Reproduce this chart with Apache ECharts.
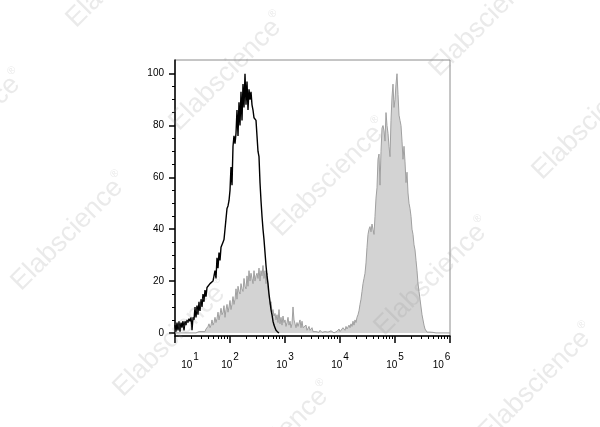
<!DOCTYPE html>
<html>
<head>
<meta charset="utf-8">
<script src="https://cdn.jsdelivr.net/npm/echarts@6.0.0/dist/echarts.min.js"></script>
<style>
  html, body { margin: 0; padding: 0; background: #fff; }
  #chart { width: 600px; height: 427px; }
</style>
</head>
<body>
<div id="chart"></div>
<script>
// ---- data ----
// x axis: log10 of fluorescence, decades 10^1 .. 10^6
const decadeTicks = [1, 2, 3, 4, 5, 6];
const decadeLabels = ['1', '2', '3', '4', '5', '6'];
const yTicks = [0, 20, 40, 60, 80, 100];
const yMinorTicks = [5, 10, 15, 25, 30, 35, 45, 50, 55, 65, 70, 75, 85, 90, 95];

// histogram bins: first bin at 10^1, 55 bins per decade
const binStart = 1;
const binWidth = 1 / 55;

// isotype control (black outline)
const controlCounts = [
  3, 0.5, 4, 1, 4.5, 0.5, 4, 2, 4.5, 1,
  4.5, 3, 5, 4, 5.5, 4.5, 6, 1, 6, 5,
  10, 6, 10.5, 7, 12, 8.5, 13, 10, 15, 12,
  16.5, 14, 17.5, 17, 18, 19, 19, 19.5, 20, 20.5,
  24, 21, 29, 25, 31, 28, 33, 34, 35, 36,
  40, 44, 48, 49, 51, 55, 64, 57, 72, 76,
  73, 77, 86, 76, 89, 80, 93, 82, 96, 87,
  100, 88, 97, 86, 94, 90, 93, 88, 86, 83,
  83, 82, 76, 70, 68, 58, 51, 45, 40, 36,
  31, 26, 22, 19, 15, 12, 9, 7, 4.5, 3,
  2, 1, 0.5, 0.2, 0
];

// stained sample (grey filled)
const stainedCounts = [
  0, 0, 0, 0, 0, 0, 0, 0, 0, 0,
  0, 0, 0, 0, 0, 0, 0, 0, 0, 0,
  0, 0, 0.3, 0.2, 0.5, 0.5, 0.8, 0.5, 1, 0.8,
  0.5, 1.5, 2, 2.5, 3.5, 2, 3, 5, 3, 4,
  6, 4, 5.5, 8, 5, 7, 9.5, 7, 8, 10.5,
  6, 9, 11, 8, 10, 12.5, 9, 11, 14, 11,
  13, 17, 13, 18, 16, 15, 19, 17, 16, 21,
  18, 17, 22, 18, 24, 20, 23, 21, 19, 24,
  20, 22, 23, 21, 25, 20, 24, 22, 26, 21,
  24, 19, 23, 17, 14, 11, 12, 8, 9, 6.5,
  7.5, 5, 7, 4, 9, 3.5, 6, 3, 6.5, 4,
  5, 2.5, 4, 6, 3, 4.5, 2, 3.5, 10, 5,
  3.5, 2, 4, 2.5, 3, 5, 2, 4.5, 2, 2.5,
  1.5, 3, 1, 1.5, 2.5, 1, 1.5, 2, 0.5, 0.8,
  1, 0.5, 0.3, 0.5, 0.2, 1, 0.5, 0.2, 0, 0.3,
  0.5, 1, 0.5, 0.3, 0.2, 0.5, 0.8, 0.3, 0.1, 0,
  0.3, 0.2, 0.6, 0.8, 1.5, 0.5, 0.8, 1, 2, 1.5,
  1, 2.5, 1.5, 2, 3, 2, 3.5, 2.5, 4.5, 3,
  5, 4, 6, 7, 8.5, 11, 13, 16, 19, 21,
  23, 27, 33, 38, 40, 41, 39, 42, 40, 38,
  45, 52, 56, 67, 69, 57, 70, 79, 80, 78,
  74, 85, 80, 77, 72, 68, 82, 91, 96, 87,
  90, 96, 100, 92, 84, 82, 80, 74, 67, 72,
  66, 58, 62, 54, 50, 48, 45, 40, 38, 34,
  32, 28, 24, 19, 16, 13, 10, 7, 5, 3,
  1.5, 0.8, 0.3, 0, 0, 0.3, 0, 0, 0.2, 0,
  0, 0, 0.3, 0, 0, 0, 0, 0, 0, 0,
  0, 0, 0, 0, 0, 0
];

const watermarkText = 'Elabscience';

// ---- build ----
const toPoints = counts => counts.map((v, i) => [binStart + i * binWidth, v]);
const xMinorTicks = [];
for (let n = decadeTicks[0]; n < decadeTicks[decadeTicks.length - 1]; n++) {
  for (let k = 2; k <= 9; k++) xMinorTicks.push(n + Math.log10(k));
}

const FONT = 'Liberation Sans, Arial, Helvetica, sans-serif';
const X_MIN = 1, X_MAX = 6, Y_MIN = -1.2, Y_MAX = 105.3;

const wmCenters = [
  [125, -31], [-33, 129], [228, 72], [70, 232], [488, 18], [330, 178],
  [172, 338], [591, 121], [433, 277], [275, 441], [537, 383]
];
const watermarks = wmCenters.map(c => ({
  type: 'text',
  x: c[0], y: c[1],
  rotation: Math.PI / 4,
  z: 100,
  silent: true,
  style: {
    text: '{a|' + watermarkText + '}{r|®}',
    align: 'center',
    verticalAlign: 'middle',
    rich: {
      a: { fontSize: 27, fontFamily: FONT, fill: 'rgba(150,150,150,0.2)', lineHeight: 30 },
      r: { fontSize: 11, fontFamily: FONT, fill: 'rgba(150,150,150,0.2)', lineHeight: 12, verticalAlign: 'top' }
    }
  }
}));

const chart = echarts.init(document.getElementById('chart'), null, { renderer: 'canvas' });
chart.setOption({
  animation: false,
  backgroundColor: '#fff',
  grid: {
    left: 175, top: 60, width: 275, height: 276,
    show: true, borderColor: '#8c8c8c', borderWidth: 1,
    backgroundColor: 'transparent',
    containLabel: false, outerBoundsMode: 'none'
  },
  xAxis: [{
    type: 'value', position: 'bottom', min: X_MIN, max: X_MAX, interval: 1,
    axisLine: { show: true, onZero: false, lineStyle: { color: '#000', width: 1.5 } },
    axisTick: { show: true, length: 7, lineStyle: { color: '#000', width: 1.5 } },
    splitLine: { show: false },
    axisLabel: {
      interval: 0, margin: 16, color: '#000',
      showMinLabel: true, showMaxLabel: true,
      formatter: function (value) {
        const i = decadeTicks.indexOf(Math.round(value));
        const sup = decadeLabels[i];
        if (i === 0) return '{b1|10}{s|' + sup + '}';
        if (i === decadeTicks.length - 1) return '{b|10}{s6|' + sup + '}';
        return '{b|10}{s|' + sup + '}';
      },
      rich: {
        b: { fontSize: 10, fontFamily: FONT, color: '#000', lineHeight: 26 },
        b1: { fontSize: 10, fontFamily: FONT, color: '#000', lineHeight: 26, padding: [0, 0, 0, 30] },
        s: { fontSize: 10, fontFamily: FONT, color: '#000', lineHeight: 10, verticalAlign: 'top', padding: [0, 0, 0, 1] },
        s6: { fontSize: 10, fontFamily: FONT, color: '#000', lineHeight: 10, verticalAlign: 'top', padding: [0, 17, 0, 1] }
      }
    }
  }, {
    type: 'value', position: 'bottom', min: X_MIN, max: X_MAX,
    axisLine: { show: false, onZero: false },
    axisTick: { show: true, length: 3, customValues: xMinorTicks, lineStyle: { color: '#000', width: 1 } },
    axisLabel: { show: false },
    splitLine: { show: false }
  }],
  yAxis: [{
    type: 'value', position: 'left', min: Y_MIN, max: Y_MAX,
    axisLine: { show: true, onZero: false, lineStyle: { color: '#000', width: 1.5 } },
    axisTick: { show: true, length: 6, customValues: yTicks, lineStyle: { color: '#000', width: 1.5 } },
    axisLabel: { customValues: yTicks, fontSize: 10, fontFamily: FONT, color: '#000', margin: 11 },
    splitLine: { show: false }
  }, {
    type: 'value', position: 'left', min: Y_MIN, max: Y_MAX,
    axisLine: { show: false, onZero: false },
    axisTick: { show: true, length: 3, customValues: yMinorTicks, lineStyle: { color: '#000', width: 1 } },
    axisLabel: { show: false },
    splitLine: { show: false }
  }],
  series: [{
    name: 'Stained',
    type: 'line',
    xAxisIndex: 0, yAxisIndex: 0,
    data: toPoints(stainedCounts),
    showSymbol: false,
    lineStyle: { color: '#a0a0a0', width: 1 },
    areaStyle: { color: '#d3d3d3', opacity: 1 },
    z: 2
  }, {
    name: 'Control',
    type: 'line',
    xAxisIndex: 0, yAxisIndex: 0,
    data: toPoints(controlCounts),
    showSymbol: false,
    lineStyle: { color: '#000', width: 1.4 },
    z: 3
  }],
  graphic: watermarks
});
</script>
</body>
</html>
